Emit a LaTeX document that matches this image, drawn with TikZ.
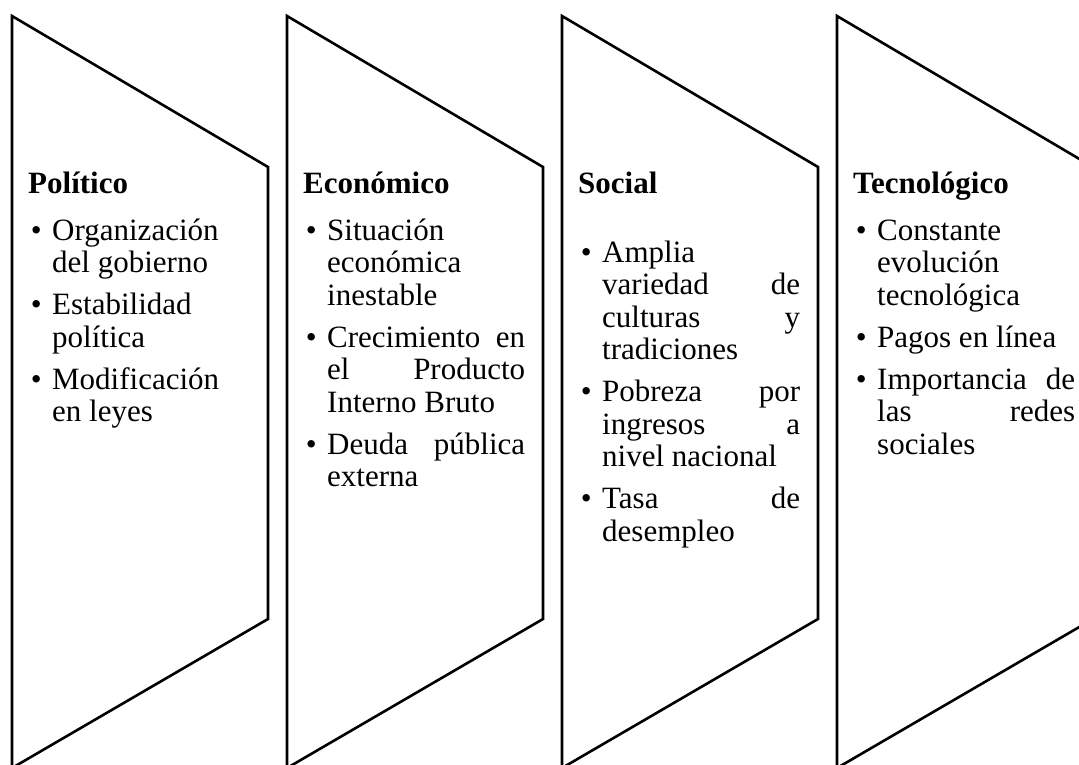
\documentclass[tikz,border=0pt]{standalone}
\usepackage{fontspec}
\setmainfont{Liberation Serif}
\newcommand{\pto}{\leavevmode\llap{\textbullet\hspace{10.5pt}}}
\begin{document}
\begin{tikzpicture}[x=1pt, y=-1pt, line join=miter,
	font=\fontsize{31}{32.5}\selectfont,
	panel/.style={draw=black, line width=2.6pt},
	titulo/.style={anchor=base west, inner sep=0pt, font=\fontsize{31}{32.5}\selectfont\bfseries},
	lista/.style={anchor=base west, inner sep=0pt}]
	\def\w{256} \def\ytop{16} \def\ycut{167} \def\ybot{619} \def\yend{768} % Forma
	\def\tw{198pt} \def\isep{9.5pt}
	\useasboundingbox (0,0) rectangle (1079,764);
	\clip (0,0) rectangle (1079,764);
	\foreach \L in {12,287,562,837}
		\draw[panel] (\L,\ytop)--(\L+\w,\ycut)--(\L+\w,\ybot)--(\L,\yend)--cycle;
	% Político
	\node[titulo] (tpol) at (28,193) {Político};
	\node[lista] (lpol) at (52,240) {\parbox[t]{\tw}{%
		\pto Organización\\ del gobierno\\[\isep]
		\pto Estabilidad\\ política\\[\isep]
		\pto Modificación\\ en leyes}};
	% Económico
	\node[titulo] (teco) at (303,193) {Económico};
	\node[lista] (leco) at (327,240) {\parbox[t]{\tw}{%
		\pto Situación\\ económica\\ inestable\\[\isep]
		\pto Crecimiento\hfill en\\ el\hfill Producto\\ Interno Bruto\\[\isep]
		\pto Deuda\hfill pública\\ externa}};
	% Social
	\node[titulo] (tsoc) at (578,193) {Social};
	\node[lista] (lsoc) at (602,262) {\parbox[t]{\tw}{%
		\pto Amplia\\ variedad\hfill de\\ culturas\hfill y\\ tradiciones\\[\isep]
		\pto Pobreza\hfill por\\ ingresos\hfill a\\ nivel nacional\\[\isep]
		\pto Tasa\hfill de\\ desempleo}};
	% Tecnológico
	\node[titulo] (ttec) at (853,193) {Tecnológico};
	\node[lista] (ltec) at (877,240) {\parbox[t]{\tw}{%
		\pto Constante\\ evolución\\ tecnológica\\[\isep]
		\pto Pagos en línea\\[\isep]
		\pto Importancia\hfill de\\ las\hfill redes\\ sociales}};
\end{tikzpicture}
\end{document}
